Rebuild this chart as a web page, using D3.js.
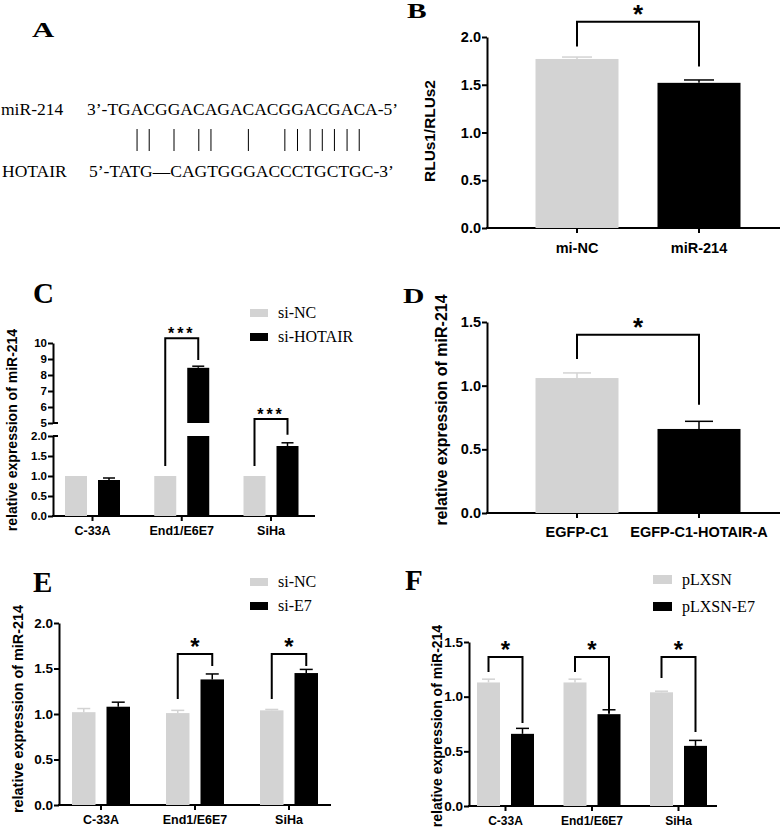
<!DOCTYPE html>
<html><head><meta charset="utf-8">
<script src="https://cdn.jsdelivr.net/npm/d3@7"></script>
<style>body{margin:0;background:#fff}</style>
</head><body>
<script>
// ---------- DATA ----------
const seqMiR = "3’-TGACGGACAGACACGGACGACA-5’";
const seqHOTAIR = "5’-TATG—CAGTGGGACCCTGCTGC-3’";
const pairIdx = [3,4,6,8,9,12,15,16,17,18,19,20,21]; // paired nucleotide positions (miR-214)

const bCats = ["mi-NC", "miR-214"];
const bVals = [1.77, 1.52];
const bErr = [0.02, 0.03];
const bTicks = [0, 0.5, 1.0, 1.5, 2.0];
const bSig = {top: 2.16, left: 1.9, right: 1.69, label: "*"};

const groups = ["C-33A", "End1/E6E7", "SiHa"];

const cSeries = ["si-NC", "si-HOTAIR"];
const cNC = [1.0, 1.0, 1.0];
const cNCErr = [0, 0, 0];
const cHOT = [0.9, 8.45, 1.75];
const cHOTErr = [0.05, 0.1, 0.08];
const cTicksLow = [0, 0.5, 1.0, 1.5, 2.0];
const cTicksHigh = [5, 6, 7, 8, 9, 10];
const cSig = [{g: "End1/E6E7", top: 10.3, left: 1.25, right: 8.93, label: "***"},
              {g: "SiHa", top: 5.25, left: 1.25, right: 2.03, label: "***"}];

const dCats = ["EGFP-C1", "EGFP-C1-HOTAIR-A"];
const dVals = [1.06, 0.66];
const dErr = [0.04, 0.06];
const dTicks = [0, 0.5, 1.0, 1.5];
const dSig = {top: 1.40, left: 1.21, right: 0.85, label: "*"};

const eSeries = ["si-NC", "si-E7"];
const eNC = [1.02, 1.01, 1.04];
const eNCErr = [0.04, 0.03, 0.01];
const eE7 = [1.08, 1.38, 1.45];
const eE7Err = [0.05, 0.06, 0.04];
const eTicks = [0, 0.5, 1.0, 1.5, 2.0];
const eSig = [{g: "End1/E6E7", top: 1.66, left: 1.165, right: 1.527, label: "*"},
              {g: "SiHa", top: 1.66, left: 1.165, right: 1.527, label: "*"}];

const fSeries = ["pLXSN", "pLXSN-E7"];
const fCtl = [1.13, 1.13, 1.04];
const fCtlErr = [0.03, 0.03, 0.01];
const fE7 = [0.66, 0.84, 0.55];
const fE7Err = [0.05, 0.04, 0.05];
const fTicks = [0, 0.5, 1.0, 1.5];
const fSig = [{g: "C-33A", top: 1.363, left: 1.226, right: 0.76, label: "*"},
              {g: "End1/E6E7", top: 1.363, left: 1.226, right: 0.85, label: "*"},
              {g: "SiHa", top: 1.363, left: 1.171, right: 0.677, label: "*"}];

// ---------- STYLE ----------
const GRAY = "#d3d3d3", BLACK = "#000";
const SANS = "'Liberation Sans', Arial, sans-serif";
const SERIF = "'Liberation Serif', 'Times New Roman', serif";
const fmt1 = d3.format(".1f");

const svg = d3.select("body").append("svg").attr("width", 784).attr("height", 828)
  .style("background", "#fff");

function panelLetter(t, x, y, fs, sx) {
  svg.append("text").text(t).attr("transform", `translate(${x},${y}) scale(${sx},1)`)
    .style("font", `bold ${fs}px ${SERIF}`).attr("fill", "#000");
}
function yAxis(scale, ticks, x, fs, fmt) {
  const a = svg.append("g").attr("transform", `translate(${x},0)`)
    .call(d3.axisLeft(scale).tickValues(ticks).tickFormat(fmt).tickSize(5).tickSizeOuter(0).tickPadding(1));
  a.selectAll("text").style("font", `bold ${fs}px ${SANS}`).attr("fill", "#000");
  a.selectAll("line,path").attr("stroke", "#000").attr("stroke-width", 2);
  return a;
}
function xAxis(band, y0, xStart, xEnd, fs, pad) {
  svg.append("line").attr("x1", xStart - 1).attr("x2", xEnd).attr("y1", y0).attr("y2", y0)
    .attr("stroke", "#000").attr("stroke-width", 2);
  const a = svg.append("g").attr("transform", `translate(0,${y0})`)
    .call(d3.axisBottom(band).tickSize(5).tickSizeOuter(0).tickPadding(pad));
  a.select(".domain").remove();
  a.selectAll("line").attr("stroke", "#000").attr("stroke-width", 2);
  a.selectAll("text").style("font", `bold ${fs}px ${SANS}`).attr("fill", "#000");
}
function yLabel(t, cx, cy, fs) {
  svg.append("text").text(t).attr("transform", `translate(${cx},${cy}) rotate(-90)`)
    .attr("text-anchor", "middle").attr("dy", "0.35em")
    .style("font", `bold ${fs}px ${SANS}`).attr("fill", "#000");
}
function bar(x, w, y1, y2, color) {
  svg.append("rect").attr("x", x).attr("width", w).attr("y", Math.min(y1, y2))
    .attr("height", Math.abs(y2 - y1)).attr("fill", color);
}
function errBar(cx, yTop, yVal, capW, color) {
  svg.append("line").attr("x1", cx).attr("x2", cx).attr("y1", yVal).attr("y2", yTop)
    .attr("stroke", color).attr("stroke-width", 1.5);
  svg.append("line").attr("x1", cx - capW / 2).attr("x2", cx + capW / 2).attr("y1", yTop).attr("y2", yTop)
    .attr("stroke", color).attr("stroke-width", 1.5);
}
function bracket(xl, xr, yTop, yL, yR, label, fs, ls) {
  svg.append("path").attr("d", `M${xl},${yL}V${yTop}H${xr}V${yR}`)
    .attr("fill", "none").attr("stroke", "#000").attr("stroke-width", 2);
  svg.append("text").text(label).attr("x", (xl + xr) / 2).attr("y", yTop + fs * 0.05)
    .attr("text-anchor", "middle").style("letter-spacing", ls + "px")
    .style("font", `bold ${fs}px ${SANS}`).attr("fill", "#000");
}
function legend(x, ys, labels, sw, sh, fs) {
  labels.forEach((l, i) => {
    svg.append("rect").attr("x", x).attr("y", ys[i] - sh - 1).attr("width", sw).attr("height", sh)
      .attr("fill", i === 0 ? GRAY : BLACK);
    svg.append("text").text(l).attr("x", x + sw + 10).attr("y", ys[i])
      .style("font", `${fs}px ${SERIF}`).attr("fill", "#000");
  });
}
function pairBand(cats, c0, c1, bw) {
  const step = c1 - c0;
  const p = 1 - bw / step;
  return d3.scaleBand().domain(cats).range([c0 - step / 2, c1 + step / 2]).paddingInner(p).paddingOuter(p / 2);
}
function groupScales(cats, series, c0, step, bw, gap) {
  const x0 = d3.scaleBand().domain(cats).range([c0 - step / 2, c0 - step / 2 + step * cats.length]).padding(0);
  const W = 2 * bw + gap;
  const x1 = d3.scaleBand().domain(series).range([step / 2 - W / 2, step / 2 + W / 2])
    .paddingInner(gap / (bw + gap)).paddingOuter(0);
  return {x0, x1};
}

// ---------- PANEL A ----------
panelLetter("A", 32, 37, 22, 1.4);
svg.append("text").attr("x", 1).attr("y", 115).text("miR-214").style("font", `17.5px ${SERIF}`);
const seqA = svg.append("text").attr("x", 87).attr("y", 115).text(seqMiR).style("font", `17.5px ${SERIF}`);
svg.append("text").attr("x", 2).attr("y", 177).text("HOTAIR").style("font", `17.5px ${SERIF}`);
svg.append("text").attr("x", 89).attr("y", 177).text(seqHOTAIR).style("font", `17.5px ${SERIF}`);
const seqNode = seqA.node();
pairIdx.forEach(i => {
  const ci = i + 2; // offset of "3’-"
  let cx;
  try {
    const s = seqNode.getStartPositionOfChar(ci).x, e = seqNode.getEndPositionOfChar(ci).x;
    cx = (s + e) / 2;
  } catch (err) { cx = 87 + 20 + (i - 0.5) * 12.2; }
  svg.append("line").attr("x1", cx).attr("x2", cx).attr("y1", 129).attr("y2", 151)
    .attr("stroke", "#000").attr("stroke-width", 1);
});

// ---------- PANEL B ----------
panelLetter("B", 407, 18, 21, 1.4);
{
  const y = d3.scaleLinear().domain([0, 2]).range([228, 37]);
  const x = pairBand(bCats, 577, 699, 83);
  yAxis(y, bTicks, 487, 14.5, fmt1);
  xAxis(x, 228, 487, 780, 14.5, 10);
  bCats.forEach((c, i) => {
    const col = i === 0 ? GRAY : BLACK;
    bar(x(c), x.bandwidth(), y(bVals[i]), y(0), col);
    errBar(x(c) + x.bandwidth() / 2, y(bVals[i] + bErr[i]), y(bVals[i]), 30, col);
  });
  const cx = c => x(c) + x.bandwidth() / 2;
  bracket(cx(bCats[0]), cx(bCats[1]), y(bSig.top), y(bSig.left), y(bSig.right), bSig.label, 26, 0);
  yLabel("RLUs1/RLUs2", 430, 131, 15.4);
}

// ---------- PANEL C ----------
panelLetter("C", 33, 303, 29, 1);
{
  const yLo = d3.scaleLinear().domain([0, 2]).range([516, 436]);
  const yHi = d3.scaleLinear().domain([5, 10]).range([423, 343]);
  const yC = v => v <= 3.5 ? yLo(v) : yHi(v);
  const {x0, x1} = groupScales(groups, cSeries, 92.5, 89.25, 22, 11);
  const ax = 53;
  yAxis(yLo, cTicksLow, ax, 11.5, fmt1);
  yAxis(yHi, cTicksHigh, ax, 11.5, d3.format("d"));
  [yLo(2), yHi(5)].forEach(yy => svg.append("line").attr("x1", ax).attr("x2", ax + 5)
    .attr("y1", yy).attr("y2", yy).attr("stroke", "#000").attr("stroke-width", 2));
  xAxis(x0, 516, ax, 315, 12.5, 5);
  const series = [[cNC, cNCErr], [cHOT, cHOTErr]];
  groups.forEach((g, gi) => {
    cSeries.forEach((s, si) => {
      const v = series[si][0][gi], e = series[si][1][gi];
      const col = si === 0 ? GRAY : BLACK;
      const bx = x0(g) + x1(s), bw = x1.bandwidth();
      if (v <= 2) bar(bx, bw, yLo(v), yLo(0), col);
      else { bar(bx, bw, yLo(2), yLo(0), col); bar(bx, bw, yHi(v), yHi(5), col); }
      if (e > 0) errBar(bx + bw / 2, yC(v + e), yC(v), 12, col);
    });
  });
  cSig.forEach(sg => {
    const xl = x0(sg.g) + x1(cSeries[0]) + x1.bandwidth() / 2;
    const xr = x0(sg.g) + x1(cSeries[1]) + x1.bandwidth() / 2;
    bracket(xl, xr, yC(sg.top), yC(sg.left), yC(sg.right), sg.label, 16, 3);
  });
  legend(250, [318, 342], cSeries, 18, 8, 16);
  yLabel("relative expression of miR-214", 12, 430, 14);
}

// ---------- PANEL D ----------
panelLetter("D", 403, 303, 22, 1.35);
{
  const y = d3.scaleLinear().domain([0, 1.5]).range([513, 322]);
  const x = pairBand(dCats, 577, 699, 83);
  yAxis(y, dTicks, 487, 14.5, fmt1);
  xAxis(x, 513, 487, 780, 14.5, 9);
  dCats.forEach((c, i) => {
    const col = i === 0 ? GRAY : BLACK;
    bar(x(c), x.bandwidth(), y(dVals[i]), y(0), col);
    errBar(x(c) + x.bandwidth() / 2, y(dVals[i] + dErr[i]), y(dVals[i]), 28, col);
  });
  const cx = c => x(c) + x.bandwidth() / 2;
  bracket(cx(dCats[0]), cx(dCats[1]), y(dSig.top), y(dSig.left), y(dSig.right), dSig.label, 26, 0);
  yLabel("relative expression of miR-214", 441, 410, 16);
}

// ---------- PANEL E ----------
panelLetter("E", 33, 592, 29, 1);
{
  const y = d3.scaleLinear().domain([0, 2]).range([805, 623]);
  const {x0, x1} = groupScales(groups, eSeries, 101, 94, 23.5, 11);
  yAxis(y, eTicks, 59, 13.5, fmt1);
  xAxis(x0, 805, 59, 331, 12.5, 5);
  const series = [[eNC, eNCErr], [eE7, eE7Err]];
  groups.forEach((g, gi) => {
    eSeries.forEach((s, si) => {
      const v = series[si][0][gi], e = series[si][1][gi];
      const col = si === 0 ? GRAY : BLACK;
      const bx = x0(g) + x1(s), bw = x1.bandwidth();
      bar(bx, bw, y(v), y(0), col);
      errBar(bx + bw / 2, y(v + e), y(v), 13, col);
    });
  });
  eSig.forEach(sg => {
    const xl = x0(sg.g) + x1(eSeries[0]) + x1.bandwidth() / 2;
    const xr = x0(sg.g) + x1(eSeries[1]) + x1.bandwidth() / 2;
    bracket(xl, xr, y(sg.top), y(sg.left), y(sg.right), sg.label, 24, 0);
  });
  legend(250, [587, 611], eSeries, 18, 8, 16);
  yLabel("relative expression of miR-214", 18, 709, 14.4);
}

// ---------- PANEL F ----------
panelLetter("F", 405, 590, 29, 1);
{
  const y = d3.scaleLinear().domain([0, 1.5]).range([806, 642]);
  const {x0, x1} = groupScales(groups, fSeries, 505.5, 86.5, 23, 11);
  yAxis(y, fTicks, 469, 13.5, fmt1);
  xAxis(x0, 806, 469, 717, 12, 5);
  const series = [[fCtl, fCtlErr], [fE7, fE7Err]];
  groups.forEach((g, gi) => {
    fSeries.forEach((s, si) => {
      const v = series[si][0][gi], e = series[si][1][gi];
      const col = si === 0 ? GRAY : BLACK;
      const bx = x0(g) + x1(s), bw = x1.bandwidth();
      bar(bx, bw, y(v), y(0), col);
      errBar(bx + bw / 2, y(v + e), y(v), 13, col);
    });
  });
  fSig.forEach(sg => {
    const xl = x0(sg.g) + x1(fSeries[0]) + x1.bandwidth() / 2;
    const xr = x0(sg.g) + x1(fSeries[1]) + x1.bandwidth() / 2;
    bracket(xl, xr, y(sg.top), y(sg.left), y(sg.right), sg.label, 24, 0);
  });
  legend(653, [585, 612], fSeries, 19, 9, 16);
  yLabel("relative expression of miR-214", 437, 726, 14);
}
</script>
</body></html>
